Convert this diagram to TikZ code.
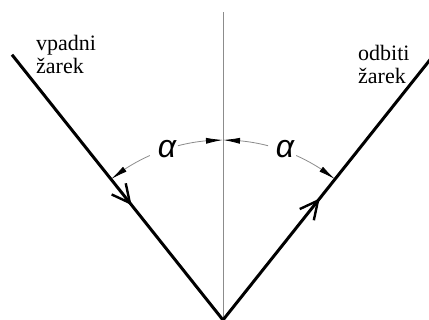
\documentclass[tikz,border=0pt]{standalone}
\usepackage{fontspec}
\setmainfont{Liberation Serif}
\newfontfamily\anglefont{Liberation Sans}
\usepackage{xcolor}
\usetikzlibrary{arrows.meta,decorations.markings,bending}
\definecolor{ink}{HTML}{000000}
\definecolor{guide}{HTML}{8C8C8C}

\begin{document}
\begin{tikzpicture}[
  x=1pt,y=1pt,
  every node/.style={inner sep=0pt,align=left,font=\rmfamily\fontsize{22}{23}\selectfont},
  ray/.style={draw=ink,line width=3pt},
  normal/.style={draw=guide,line width=0.9pt},
  angarc/.style={draw=guide,line width=0.8pt,-{Latex[length=17pt,width=6pt,color=ink]}},
  barb/.style={draw=ink,line width=2.4pt,line join=miter},
  dirmark/.style 2 args={postaction={decorate},decoration={markings,
    mark=at position #1 with {\draw[barb] (-18,9) -- (0,0) -- (-18,-9);},
    mark=at position #2 with {\draw[barb] (-18,9) -- (0,0) -- (-18,-9);}}},
  lbl/.style={font=\anglefont\itshape\fontsize{32}{32}\selectfont}
]
\useasboundingbox (0,0) rectangle (429,320);
\clip (0,0) rectangle (429,320);
\coordinate (O) at (223,0);
\coordinate (top) at (223,308);
\path (O) ++(128.5:339) coordinate (inc);
\path (O) ++(51.5:340) coordinate (refl);
\draw[normal] (O) -- (top);
\draw[ray,dirmark={0.279}{0.724}] (inc) -- (O) -- (refl);
\node[lbl] (alphaL) at (167,171) {α};
\node[lbl] (alphaR) at (285,171) {α};
\draw[angarc] (O) ++(114:180) arc[start angle=114,end angle=128.5,radius=180];
\draw[angarc] (O) ++(104.5:180) arc[start angle=104.5,end angle=90,radius=180];
\draw[angarc] (O) ++(75.5:180) arc[start angle=75.5,end angle=90,radius=180];
\draw[angarc] (O) ++(66:180) arc[start angle=66,end angle=51.5,radius=180];
\node[anchor=north west] (incl) at (36,285) {vpadni\\žarek};
\node[anchor=north west] (refll) at (358,275) {odbiti\\žarek};
\end{tikzpicture}
\end{document}
